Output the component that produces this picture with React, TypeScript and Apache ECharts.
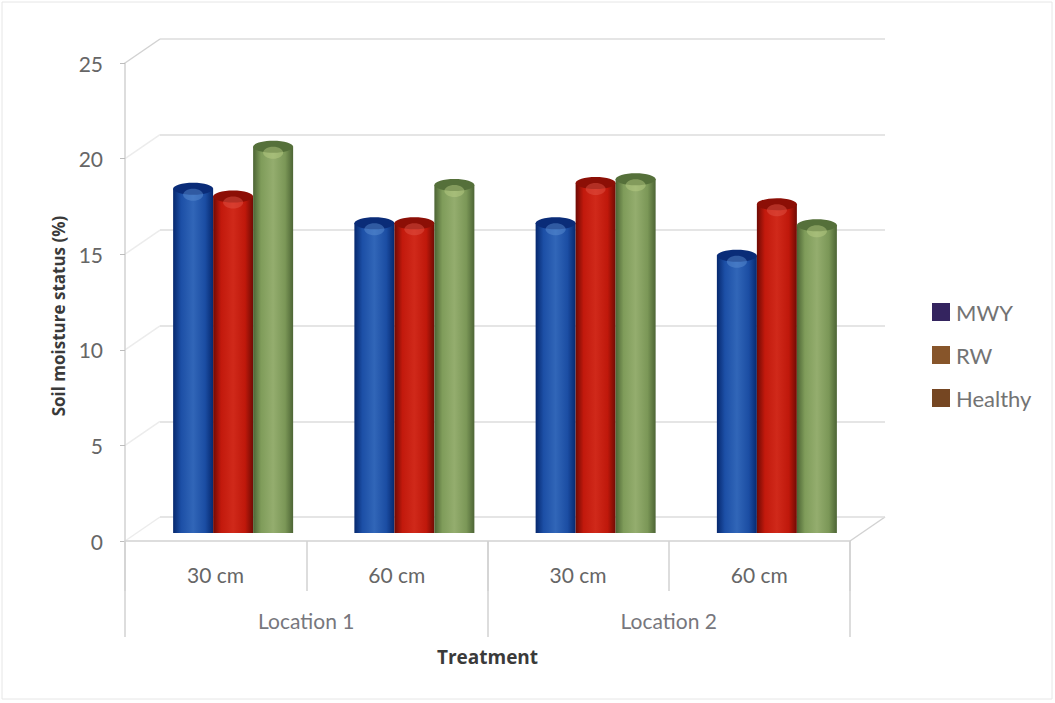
import React, { useEffect, useRef } from "react";
import * as echarts from "echarts";

const subCategories = ["30 cm", "60 cm", "30 cm", "60 cm"];
const groups = ["Location 1", "Location 2"];
const seriesNames = ["MWY", "RW", "Healthy"];
const mwy = [18.0, 16.2, 16.2, 14.5];
const rw = [17.6, 16.2, 18.3, 17.2];
const healthy = [20.2, 18.2, 18.5, 16.1];
const yTicks = [0, 5, 10, 15, 20, 25];
const legendColors = ["#34245f", "#87552a", "#754622"];

// Shading stops of each cylinder: edge, mid-tone, light core, mid-tone, edge
const shades = [
  ["#06286e", "#1c4fa6", "#3166b8", "#1b4da3", "#06296f"],
  ["#6e0a04", "#c2190c", "#d0291a", "#bf180b", "#710b04"],
  ["#4c6434", "#7f9c5a", "#94ad6e", "#7b9757", "#4d6535"],
];
const caps = ["#0a2c78", "#8c0f06", "#55703a"];
const highlights = ["#5f93d4", "#e2574a", "#bcd088"];

// Plot geometry: front frame, and the depth shift to the back wall
const frontLeft = 125;
const frontRight = 850;
const frontTop = 63;
const frontBottom = 541;
const depthX = 35;
const depthY = -24;
const width = 1055;
const height = 703;
const barWidth = 40;
const capHeight = 12;

const seriesValues = [mwy, rw, healthy];

const cylinder = (seriesIndex: number) => (params: any, api: any) => {
  const cat = api.value(0);
  const top = api.coord([cat, api.value(1)]);
  const base = api.coord([cat, 0]);
  const x = top[0] + (seriesIndex - 1) * barWidth - barWidth / 2;
  const body = new echarts.graphic.LinearGradient(
    0,
    0,
    1,
    0,
    shades[seriesIndex].map((color, i) => ({ offset: [0, 0.2, 0.5, 0.8, 1][i], color })),
  );
  return {
    type: "group",
    children: [
      {
        type: "rect",
        shape: { x, y: top[1], width: barWidth, height: base[1] - top[1] },
        style: { fill: body },
      },
      {
        type: "ellipse",
        shape: { cx: x + barWidth / 2, cy: top[1], rx: barWidth / 2, ry: capHeight / 2 },
        style: { fill: caps[seriesIndex] },
      },
      {
        type: "ellipse",
        shape: { cx: x + barWidth / 2, cy: top[1] + 6, rx: barWidth / 4, ry: capHeight / 2 },
        style: { fill: highlights[seriesIndex], opacity: 0.45 },
      },
    ],
  };
};

export default function App() {
  const ref = useRef<HTMLDivElement>(null);

  useEffect(() => {
    const chart = echarts.init(ref.current!, null, { renderer: "svg" });
    const unit = (frontBottom - frontTop) / 25;
    const wallColor = "#dcdcdc";
    const frameColor = "#d2d2d2";
    const topTick = yTicks[yTicks.length - 1];

    // Side wall edges joining the front frame to the back wall
    const depthLines = yTicks.map((tick) => {
      const y = frontBottom - tick * unit;
      return {
        type: "line",
        silent: true,
        shape: { x1: frontLeft, y1: y, x2: frontLeft + depthX, y2: y + depthY },
        style: { stroke: tick === topTick ? frameColor : "#ececec", lineWidth: 1.5 },
      };
    });

    chart.setOption({
      animation: false,
      backgroundColor: "#ffffff",
      textStyle: { fontFamily: "Lato" },
      graphic: [
        {
          type: "rect",
          silent: true,
          z: -1,
          shape: { x: 2, y: 2, width: width - 5, height: height - 6 },
          style: { fill: "none", stroke: "#e6e6e6", lineWidth: 1 },
        },
        ...depthLines,
        {
          type: "line",
          silent: true,
          shape: {
            x1: frontRight,
            y1: frontBottom,
            x2: frontRight + depthX,
            y2: frontBottom + depthY,
          },
          style: { stroke: frameColor, lineWidth: 1.5 },
        },
      ],
      legend: {
        orient: "vertical",
        left: 932,
        top: 301,
        padding: 0,
        itemWidth: 18,
        itemHeight: 18,
        itemGap: 21,
        icon: "rect",
        data: seriesNames,
        textStyle: { fontFamily: "Lato", fontSize: 22, color: "#737373", padding: [0, 0, 0, 1] },
      },
      grid: [
        // Front frame: tick labels and category levels
        {
          left: frontLeft,
          top: frontTop,
          width: frontRight - frontLeft,
          height: frontBottom - frontTop,
          outerBoundsMode: "none",
        },
        // Back wall with the horizontal gridlines
        {
          left: frontLeft + depthX,
          top: frontTop + depthY,
          width: frontRight - frontLeft,
          height: frontBottom - frontTop,
          outerBoundsMode: "none",
        },
        // Cylinders stand midway between the front frame and the wall
        {
          left: frontLeft + depthX / 2,
          top: 533 - 25 * unit,
          width: frontRight - frontLeft,
          height: 25 * unit,
          outerBoundsMode: "none",
        },
      ],
      xAxis: [
        {
          type: "category",
          gridIndex: 0,
          position: "bottom",
          data: subCategories,
          axisLine: { show: true, onZero: false, lineStyle: { color: frameColor, width: 1.5 } },
          axisTick: { show: true, length: 50, lineStyle: { color: frameColor, width: 1.5 } },
          axisLabel: { margin: 23, fontSize: 21, color: "#666666", fontFamily: "Lato" },
        },
        {
          type: "category",
          gridIndex: 0,
          position: "bottom",
          data: groups,
          name: "Treatment",
          nameLocation: "middle",
          nameGap: 106,
          nameTextStyle: { fontFamily: "Open Sans", fontSize: 19, fontWeight: "bold", color: "#3a3a3a" },
          axisLine: { show: false, onZero: false },
          axisTick: { show: true, length: 96, lineStyle: { color: frameColor, width: 1.5 } },
          axisLabel: { margin: 69, fontSize: 21, color: "#77777d", fontFamily: "Lato" },
        },
        { type: "category", gridIndex: 1, data: subCategories, show: false },
        { type: "category", gridIndex: 2, data: subCategories, show: false },
      ],
      yAxis: [
        {
          type: "value",
          gridIndex: 0,
          position: "left",
          min: 0,
          max: 25,
          interval: 5,
          name: "Soil moisture status (%)",
          nameLocation: "middle",
          nameGap: 58,
          nameTextStyle: {
            fontFamily: "Open Sans",
            fontSize: 17,
            fontWeight: "bold",
            color: "#3a3a3a",
            padding: [0, 28, 0, 0],
          },
          axisLine: { show: true, onZero: false, lineStyle: { color: frameColor, width: 1.5 } },
          axisTick: { show: true, length: 5, lineStyle: { color: "#bdbdbd" } },
          axisLabel: { margin: 22, fontSize: 21, color: "#666666", fontFamily: "Lato" },
          splitLine: { show: false },
        },
        {
          type: "value",
          gridIndex: 1,
          min: 0,
          max: 25,
          interval: 5,
          axisLine: { show: false },
          axisTick: { show: false },
          axisLabel: { show: false },
          splitLine: { show: true, lineStyle: { color: wallColor, width: 1.5 } },
        },
        { type: "value", gridIndex: 2, min: 0, max: 25, interval: 5, show: false, splitLine: { show: false } },
      ],
      series: seriesNames.map((name, i) => ({
        name,
        type: "custom",
        xAxisIndex: 3,
        yAxisIndex: 2,
        clip: false,
        itemStyle: { color: legendColors[i] },
        encode: { x: 0, y: 1 },
        data: seriesValues[i].map((value, cat) => [cat, value]),
        renderItem: cylinder(i),
      })),
    });

    return () => chart.dispose();
  }, []);

  return (
    <div
      ref={ref}
      style={{ position: "fixed", left: 0, top: 0, width, height, background: "#fff" }}
    />
  );
}
